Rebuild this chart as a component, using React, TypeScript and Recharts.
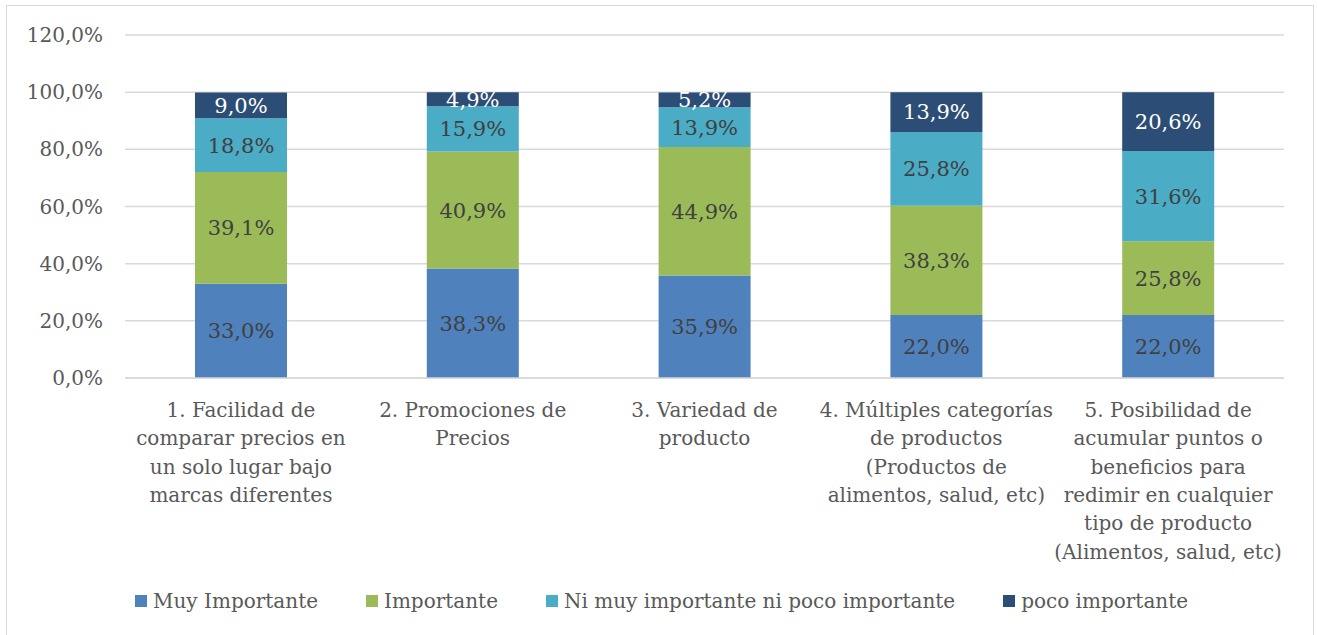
import React from "react";
import { BarChart, Bar, XAxis, YAxis, CartesianGrid, Legend, LabelList } from "recharts";

const categories = [
  "1. Facilidad de\ncomparar precios en\nun solo lugar bajo\nmarcas diferentes",
  "2. Promociones de\nPrecios",
  "3. Variedad de\nproducto",
  "4. Múltiples categorías\nde productos\n(Productos de\nalimentos, salud, etc)",
  "5. Posibilidad de\nacumular puntos o\nbeneficios para\nredimir en cualquier\ntipo de producto\n(Alimentos, salud, etc)",
];
const muyImportante = [33.0, 38.3, 35.9, 22.0, 22.0];
const importante = [39.1, 40.9, 44.9, 38.3, 25.8];
const niMuy = [18.8, 15.9, 13.9, 25.8, 31.6];
const pocoImportante = [9.0, 4.9, 5.2, 13.9, 20.6];
const yTicks = [0, 20, 40, 60, 80, 100, 120];

const seriesNames = ["Muy Importante", "Importante", "Ni muy importante ni poco importante", "poco importante"];
const colors = ["#4F81BD", "#9BBB59", "#4BACC6", "#2C4D75"];
const keys = ["muy", "imp", "ni", "poco"];

const data = categories.map((c, i) => ({
  name: c,
  muy: muyImportante[i],
  imp: importante[i],
  ni: niMuy[i],
  poco: pocoImportante[i],
}));

const FONT = "'DejaVu Serif', serif";
const fmt = (v: any) => `${Number(v).toFixed(1).replace(".", ",")}%`;

const CategoryTick = (props: any) => {
  const { x, y, payload } = props;
  const lines = String(payload.value).split("\n");
  return (
    <g>
      {lines.map((l: string, i: number) => (
        <text
          key={i}
          x={x}
          y={y + 31 + i * 28.3}
          textAnchor="middle"
          fill="#595959"
          fontSize={20}
          fontFamily={FONT}
        >
          {l}
        </text>
      ))}
    </g>
  );
};

const LegendContent = () => (
  <div style={{ display: "flex", alignItems: "center", height: 30, paddingLeft: 135, fontFamily: FONT, fontSize: 20, color: "#595959" }}>
    {seriesNames.map((n, i) => (
      <div key={n} style={{ display: "flex", alignItems: "center", marginRight: 48 }}>
        <span style={{ display: "inline-block", width: 12, height: 12, background: colors[i], marginRight: 6 }} />
        <span>{n}</span>
      </div>
    ))}
  </div>
);

export default function App() {
  return (
    <div style={{ position: "absolute", left: 0, top: 0, width: 1317, height: 635, background: "#fff", overflow: "hidden" }}>
      <div style={{ position: "absolute", left: 6, top: 5, width: 1306, height: 640, border: "1.5px solid #D9D9D9" }} />
      <div style={{ position: "absolute", left: 0, top: 0 }}>
        <BarChart width={1317} height={635} data={data} margin={{ top: 35, right: 33, left: 0, bottom: 27 }}>
          <CartesianGrid vertical={false} stroke="#D9D9D9" strokeWidth={1.5} />
          <XAxis
            dataKey="name"
            height={200}
            tick={<CategoryTick />}
            tickLine={false}
            axisLine={{ stroke: "#D9D9D9", strokeWidth: 1.5 }}
            interval={0}
          />
          <YAxis
            width={125}
            domain={[0, 120]}
            ticks={yTicks}
            tickFormatter={fmt}
            tickLine={false}
            axisLine={false}
            tickSize={0}
            tickMargin={22}
            tick={{ fill: "#595959", fontSize: 20, fontFamily: FONT }}
            interval={0}
          />
          <Legend verticalAlign="bottom" content={<LegendContent />} wrapperStyle={{ top: 586, left: 0, width: 1317, height: 30 }} />
          {keys.map((k, i) => (
            <Bar key={k} dataKey={k} name={seriesNames[i]} stackId="a" fill={colors[i]} barSize={92} isAnimationActive={false}>
              <LabelList
                dataKey={k}
                position="center"
                formatter={fmt}
                fill={i === 3 ? "#FFFFFF" : "#404040"}
                fontSize={21}
                fontFamily={FONT}
              />
            </Bar>
          ))}
        </BarChart>
      </div>
    </div>
  );
}
